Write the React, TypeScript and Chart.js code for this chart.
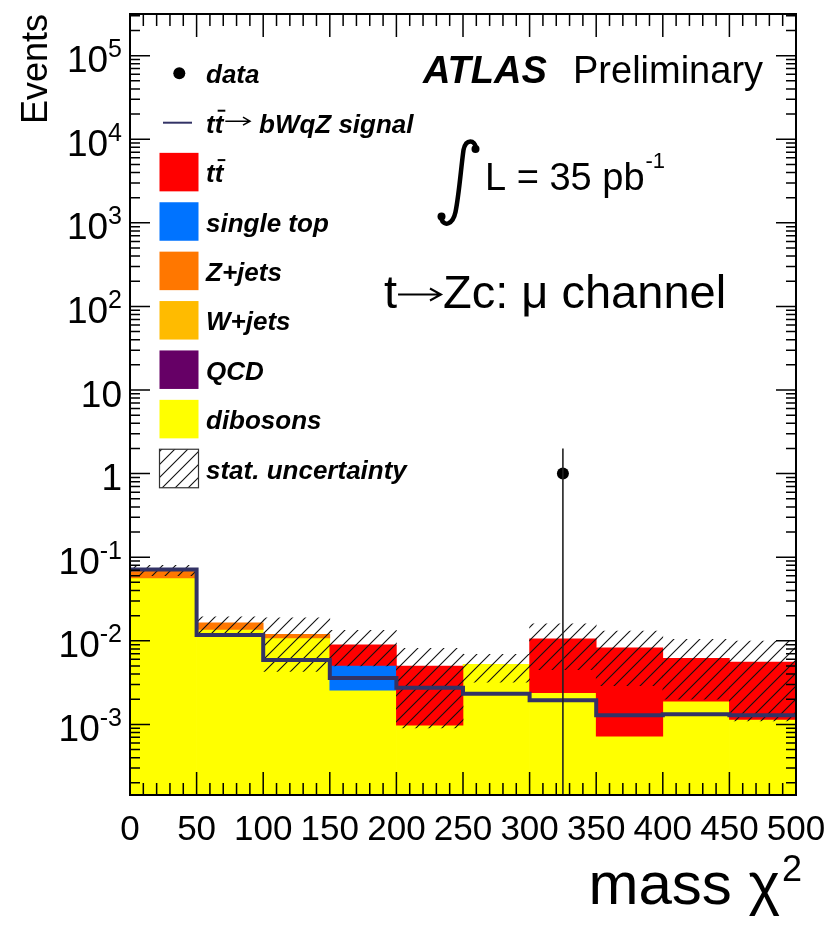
import React, { useEffect, useRef } from 'react';
import { Chart, registerables } from 'chart.js';

Chart.register(...registerables);

// ---------------- data ----------------
const binEdges = [0, 50, 100, 150, 200, 250, 300, 350, 400, 450, 500];
const xTickLabels = ['0', '50', '100', '150', '200', '250', '300', '350', '400', '450', '500'];
const yDecades = [-3, -2, -1, 0, 1, 2, 3, 4, 5];

const dibosons = [0.0567, 0.01368, 0.01086, 0.00257, 0.00098, 0.00522, 0.00239, 0.000725, 0.0019, 0.00115];
const qcd = [0, 0, 0, 0, 0, 0, 0, 0, 0, 0];
const wJets = [0, 0, 0, 0, 0, 0, 0, 0, 0, 0];
const zJets = [0.0148, 0.0027, 0.00107, 0, 0, 0, 0, 0, 0, 0];
const singleTop = [0, 0, 0, 0.00251, 0, 0, 0, 0, 0, 0];
const ttbar = [0, 0, 0, 0.00388, 0.004, 0, 0.00818, 0.00753, 0.00425, 0.00441];
const signal = [0.0715, 0.0117, 0.00588, 0.00358, 0.00274, 0.00232, 0.00194, 0.00129, 0.00132, 0.00129];
const statUp = [0.0798, 0.0194, 0.0188, 0.0133, 0.0081, 0.0069, 0.016, 0.0131, 0.0104, 0.0099];
const statDown = [0.06, 0.0125, 0.0043, 0.005, 0.00091, 0.0032, 0.0045, 0.0029, 0.002, 0.0011];

const dataX = [325];
const dataY = [1];
const dataErrLow = [1];
const dataErrHigh = [1];

const Y_MIN = 1.43e-4;
const Y_MAX = 3.15e5;

const colTtbar = '#ff0000';
const colSingleTop = '#0073ff';
const colZJets = '#ff7700';
const colWJets = '#ffbb00';
const colQcd = '#660066';
const colDibosons = '#ffff00';
const colSignal = '#333366';

const SANS = '"Liberation Sans", Arial, Helvetica, sans-serif';

// ---------------- helpers ----------------
const centers = binEdges.slice(0, -1).map((e, i) => (e + binEdges[i + 1]) / 2);

function buildStack() {
  const layers = [
    { label: 'dibosons', values: dibosons, color: colDibosons },
    { label: 'QCD', values: qcd, color: colQcd },
    { label: 'W+jets', values: wJets, color: colWJets },
    { label: 'Z+jets', values: zJets, color: colZJets },
    { label: 'single top', values: singleTop, color: colSingleTop },
    { label: 'ttbar', values: ttbar, color: colTtbar },
  ];
  let run = centers.map(() => 0);
  const out: any[] = [];
  layers.forEach((l, k) => {
    const lo = run;
    const hi = lo.map((v, i) => v + l.values[i]);
    out.push({
      type: 'bar',
      label: l.label,
      data: centers.map((c, i) =>
        l.values[i] > 0 ? { x: c, y: [lo[i] > 0 ? lo[i] : Y_MIN, hi[i]] } : { x: c, y: null }
      ),
      backgroundColor: l.color,
      borderWidth: 0,
      stack: 'bg',
      barThickness: 'flex',
      categoryPercentage: 1,
      barPercentage: 1,
      order: 10 - k,
    });
    run = hi;
  });
  return out;
}

function drawTTbar(ctx: CanvasRenderingContext2D, x: number, y: number) {
  const wt = ctx.measureText('t').width;
  ctx.fillText('tt', x, y);
  ctx.save();
  ctx.lineWidth = 2;
  ctx.beginPath();
  ctx.moveTo(x + wt + 3, y - 22);
  ctx.lineTo(x + 2 * wt + 2, y - 22);
  ctx.stroke();
  ctx.restore();
  return ctx.measureText('tt').width;
}

function drawArrow(ctx: CanvasRenderingContext2D, x0: number, x1: number, y: number, lw: number, head: number, half: number) {
  ctx.save();
  ctx.lineWidth = lw;
  ctx.lineCap = 'butt';
  ctx.beginPath();
  ctx.moveTo(x0, y);
  ctx.lineTo(x1 - 1, y);
  ctx.moveTo(x1 - head, y - half);
  ctx.lineTo(x1, y);
  ctx.lineTo(x1 - head, y + half);
  ctx.stroke();
  ctx.restore();
}

export default function App() {
  const ref = useRef<HTMLCanvasElement>(null);

  useEffect(() => {
    const canvas = ref.current!;
    const S = 13;
    const tile = document.createElement('canvas');
    tile.width = S;
    tile.height = S;
    const tctx = tile.getContext('2d')!;
    tctx.strokeStyle = '#111';
    tctx.lineWidth = 1.1;
    tctx.beginPath();
    tctx.moveTo(-2, S + 2);
    tctx.lineTo(S + 2, -2);
    tctx.moveTo(-2, 2);
    tctx.lineTo(2, -2);
    tctx.moveTo(S - 2, S + 2);
    tctx.lineTo(S + 2, S - 2);
    tctx.stroke();
    const hatch = canvas.getContext('2d')!.createPattern(tile, 'repeat')!;

    const signalPts = binEdges.map((e, i) => ({ x: e, y: signal[Math.min(i, signal.length - 1)] }));
    const statPts = centers.map((c, i) => ({ x: c, y: [statDown[i], statUp[i]] }));

    const decor = {
      id: 'decor',
      afterDatasetsDraw(chart: any) {
        const ctx: CanvasRenderingContext2D = chart.ctx;
        const xs = chart.scales.x;
        const ys = chart.scales.y;
        const { left, right, top, bottom } = chart.chartArea;
        ctx.save();

        // data error bar
        ctx.strokeStyle = '#222';
        ctx.lineWidth = 1.6;
        dataX.forEach((x, i) => {
          const px = xs.getPixelForValue(x);
          const lo = dataY[i] - dataErrLow[i];
          const pyLo = lo > Y_MIN ? ys.getPixelForValue(lo) : bottom;
          const pyHi = ys.getPixelForValue(dataY[i] + dataErrHigh[i]);
          ctx.beginPath();
          ctx.moveTo(px, pyLo);
          ctx.lineTo(px, pyHi);
          ctx.stroke();
        });

        // ticks
        ctx.strokeStyle = '#000';
        ctx.lineWidth = 1.5;
        ctx.beginPath();
        for (let v = binEdges[0]; v <= binEdges[binEdges.length - 1]; v += 10) {
          const px = xs.getPixelForValue(v);
          const len = v % 50 === 0 ? 23 : 12;
          ctx.moveTo(px, bottom);
          ctx.lineTo(px, bottom - len);
          ctx.moveTo(px, top);
          ctx.lineTo(px, top + len);
        }
        for (let e = -4; e <= 5; e++) {
          for (let m = 1; m <= 9; m++) {
            const v = m * Math.pow(10, e);
            if (v < Y_MIN || v > Y_MAX) continue;
            const py = ys.getPixelForValue(v);
            const len = m === 1 ? 20 : 10;
            ctx.moveTo(left, py);
            ctx.lineTo(left + len, py);
            ctx.moveTo(right, py);
            ctx.lineTo(right - len, py);
          }
        }
        ctx.stroke();

        // frame
        ctx.lineWidth = 2;
        ctx.strokeRect(left, top, right - left, bottom - top);

        ctx.fillStyle = '#000';
        ctx.strokeStyle = '#000';
        // x tick labels
        ctx.font = `35px ${SANS}`;
        ctx.textAlign = 'center';
        ctx.textBaseline = 'alphabetic';
        binEdges.forEach((v, i) => {
          ctx.fillText(xTickLabels[i], xs.getPixelForValue(v), 840);
        });

        // y tick labels
        const RX = 122;
        yDecades.forEach((e) => {
          const py = ys.getPixelForValue(Math.pow(10, e));
          const base = py + 16.5;
          ctx.textAlign = 'right';
          if (e === 0 || e === 1) {
            ctx.font = `37px ${SANS}`;
            ctx.fillText(e === 0 ? '1' : '10', RX, base);
          } else {
            const sup = String(e);
            ctx.font = `25px ${SANS}`;
            const sw = ctx.measureText(sup).width;
            ctx.fillText(sup, RX, base - 15);
            ctx.font = `37px ${SANS}`;
            ctx.fillText('10', RX - sw, base);
          }
        });

        // axis titles
        ctx.save();
        ctx.translate(47, 14);
        ctx.rotate(-Math.PI / 2);
        ctx.font = `36px ${SANS}`;
        ctx.textAlign = 'right';
        ctx.fillText('Events', 0, 0);
        ctx.restore();

        ctx.textAlign = 'left';
        ctx.font = `36px ${SANS}`;
        const w2 = ctx.measureText('2').width;
        ctx.font = `60px ${SANS}`;
        const wm = ctx.measureText('mass \u03c7').width;
        const xStart = 802 - w2 - wm - 2;
        ctx.fillText('mass \u03c7', xStart, 904);
        ctx.font = `36px ${SANS}`;
        ctx.fillText('2', xStart + wm + 2, 881);

        // ATLAS Preliminary
        ctx.font = `italic bold 38px ${SANS}`;
        ctx.fillText('ATLAS', 423, 83);
        ctx.font = `38px ${SANS}`;
        ctx.fillText('Preliminary', 573, 83);

        // integral luminosity
        ctx.save();
        ctx.lineWidth = 4.5;
        ctx.lineCap = 'round';
        ctx.beginPath();
        ctx.moveTo(476, 148);
        ctx.bezierCurveTo(475, 140, 466, 138, 463.5, 150);
        ctx.bezierCurveTo(461, 168, 459, 195, 455.5, 212);
        ctx.bezierCurveTo(453, 224, 444, 228, 441, 218);
        ctx.stroke();
        ctx.beginPath();
        ctx.arc(475.5, 149, 4, 0, Math.PI * 2);
        ctx.fill();
        ctx.beginPath();
        ctx.arc(441.5, 216.5, 4, 0, Math.PI * 2);
        ctx.fill();
        ctx.restore();
        ctx.font = `38px ${SANS}`;
        ctx.fillText('L = 35 pb', 485, 190);
        const wl = ctx.measureText('L = 35 pb').width;
        ctx.font = `22px ${SANS}`;
        ctx.fillText('-1', 485 + wl + 1, 168);

        // channel
        ctx.font = `47px ${SANS}`;
        ctx.fillText('t', 384, 308);
        const wtt = ctx.measureText('t').width;
        drawArrow(ctx, 384 + wtt + 1, 441, 294.5, 2, 11, 6);
        ctx.fillText('Zc: \u03bc channel', 443, 308);

        // legend
        const ROW0 = 73.3;
        const DY = 49.4;
        const BX = 159.5;
        const BW = 39;
        const BH = 38.5;
        const TX = 206;
        const LF = `italic bold 26px ${SANS}`;
        const rowY = (k: number) => ROW0 + k * DY;
        // data
        ctx.beginPath();
        ctx.arc(179.3, rowY(0), 6, 0, Math.PI * 2);
        ctx.fill();
        ctx.font = LF;
        ctx.fillText('data', TX, rowY(0) + 10);
        // signal
        ctx.save();
        ctx.strokeStyle = colSignal;
        ctx.lineWidth = 2;
        ctx.beginPath();
        ctx.moveTo(163, rowY(1));
        ctx.lineTo(192, rowY(1));
        ctx.stroke();
        ctx.restore();
        ctx.font = LF;
        const ttw = drawTTbar(ctx, TX, rowY(1) + 10);
        drawArrow(ctx, TX + ttw + 2, 250, rowY(1) - 1.5, 1.5, 7, 4);
        ctx.font = LF;
        ctx.fillText('bWqZ signal', 259, rowY(1) + 10);

        const boxes = [
          { label: 'ttbar', color: colTtbar },
          { label: 'single top', color: colSingleTop },
          { label: 'Z+jets', color: colZJets },
          { label: 'W+jets', color: colWJets },
          { label: 'QCD', color: colQcd },
          { label: 'dibosons', color: colDibosons },
        ];
        boxes.forEach((b, j) => {
          const yc = rowY(j + 2);
          ctx.fillStyle = b.color;
          ctx.fillRect(BX, yc - BH / 2, BW, BH);
          ctx.fillStyle = '#000';
          ctx.font = LF;
          if (b.label === 'ttbar') drawTTbar(ctx, TX, yc + 10);
          else ctx.fillText(b.label, TX, yc + 10);
        });
        const ys8 = rowY(8);
        ctx.fillStyle = '#fff';
        ctx.fillRect(BX, ys8 - BH / 2, BW, BH);
        ctx.fillStyle = hatch;
        ctx.fillRect(BX, ys8 - BH / 2, BW, BH);
        ctx.strokeStyle = '#333';
        ctx.lineWidth = 1.2;
        ctx.strokeRect(BX, ys8 - BH / 2, BW, BH);
        ctx.fillStyle = '#000';
        ctx.font = LF;
        ctx.fillText('stat. uncertainty', TX, ys8 + 10);

        ctx.restore();
      },
    };

    const chart = new Chart(canvas, {
      type: 'bar',
      data: {
        datasets: [
          {
            type: 'line',
            label: 'data',
            data: dataX.map((x, i) => ({ x, y: dataY[i] })),
            showLine: false,
            pointRadius: 6,
            pointBackgroundColor: '#000',
            pointBorderColor: '#000',
            pointBorderWidth: 0,
            order: 0,
          } as any,
          {
            type: 'line',
            label: 'signal',
            data: signalPts,
            stepped: 'before',
            borderColor: colSignal,
            borderWidth: 4,
            borderJoinStyle: 'miter',
            borderCapStyle: 'butt',
            pointRadius: 0,
            fill: false,
            order: 1,
          } as any,
          {
            type: 'bar',
            label: 'stat',
            data: statPts,
            backgroundColor: hatch,
            borderWidth: 0,
            stack: 'bg',
            barThickness: 'flex',
            categoryPercentage: 1,
            barPercentage: 1,
            order: 2,
          } as any,
          ...buildStack(),
        ],
      },
      options: {
        animation: false,
        responsive: false,
        devicePixelRatio: 1,
        events: [],
        layout: { padding: { left: 130, top: 14, right: 32, bottom: 134 } },
        plugins: { legend: { display: false }, tooltip: { enabled: false } },
        scales: {
          x: { type: 'linear', min: 0, max: 500, display: false, stacked: true, offset: false },
          y: { type: 'logarithmic', min: Y_MIN, max: Y_MAX, display: false, stacked: false },
        },
      } as any,
      plugins: [decor],
    });
    return () => chart.destroy();
  }, []);

  return (
    <div style={{ position: 'absolute', left: 0, top: 0, width: 828, height: 929, background: '#fff' }}>
      <canvas ref={ref} width={828} height={929} style={{ display: 'block', width: 828, height: 929 }} />
    </div>
  );
}
